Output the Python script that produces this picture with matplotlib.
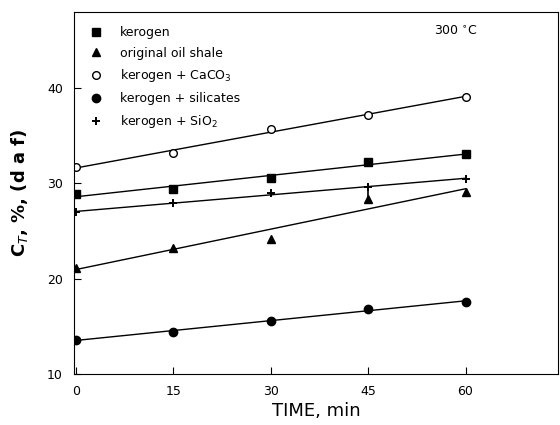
import matplotlib.pyplot as plt
import numpy as np

# Datos
time = [0, 15, 30, 45, 60]
kerogen = [28.9, 29.4, 30.6, 32.2, 33.1]
oil_shale = [21.1, 23.2, 24.2, 28.4, 29.1]
caco3 = [31.7, 33.2, 35.7, 37.2, 39.1]
silicates = [13.6, 14.4, 15.6, 16.8, 17.6]
sio2 = [27.0, 27.9, 29.0, 29.6, 30.5]

series = [
    ("kerogen", kerogen, dict(marker='s', mfc='black', ms=5.5)),
    ("original oil shale", oil_shale, dict(marker='^', mfc='black', ms=5.5)),
    ("kerogen + CaCO$_3$", caco3, dict(marker='o', mfc='white', ms=5.5)),
    ("kerogen + silicates", silicates, dict(marker='o', mfc='black', ms=6)),
    ("kerogen + SiO$_2$", sio2, dict(marker='+', mfc='black', ms=5.5, mew=1.4)),
]

fig = plt.figure(figsize=(5.6, 4.25), dpi=100)
ax = fig.add_axes([0.132, 0.12, 0.864, 0.852])

t = np.array(time)
tt = np.array([0, 60])
for label, y, style in series:
    # recta de ajuste
    p = np.polyfit(t, y, 1)
    ax.plot(tt, np.polyval(p, tt), color='black', lw=1.0)
    ax.plot(t, y, linestyle='none', color='black', mec='black', label=label,
            **style)

# barra de error en 45 min
ax.plot([45, 45], [oil_shale[3], sio2[3]], color='black', lw=1.2)

ax.set_xlim(-0.3, 74.2)
ax.set_ylim(10, 48)
ax.set_xticks(time)
ax.set_yticks([10, 20, 30, 40])
ax.tick_params(direction='in', length=5, labelsize=9, pad=8)

ax.set_xlabel("TIME, min", fontsize=13, labelpad=3)
ax.set_ylabel("C$_T$, %, (d a f)", fontsize=13, fontweight='bold', labelpad=12)

ax.text(0.745, 0.935, "300 $^{\\circ}$C", transform=ax.transAxes, fontsize=9)

ax.legend(loc='upper left', frameon=False, fontsize=9, handletextpad=0.9,
          labelspacing=0.62, borderaxespad=0.0, bbox_to_anchor=(0.01, 0.975))

plt.savefig("out.png", dpi=100)
